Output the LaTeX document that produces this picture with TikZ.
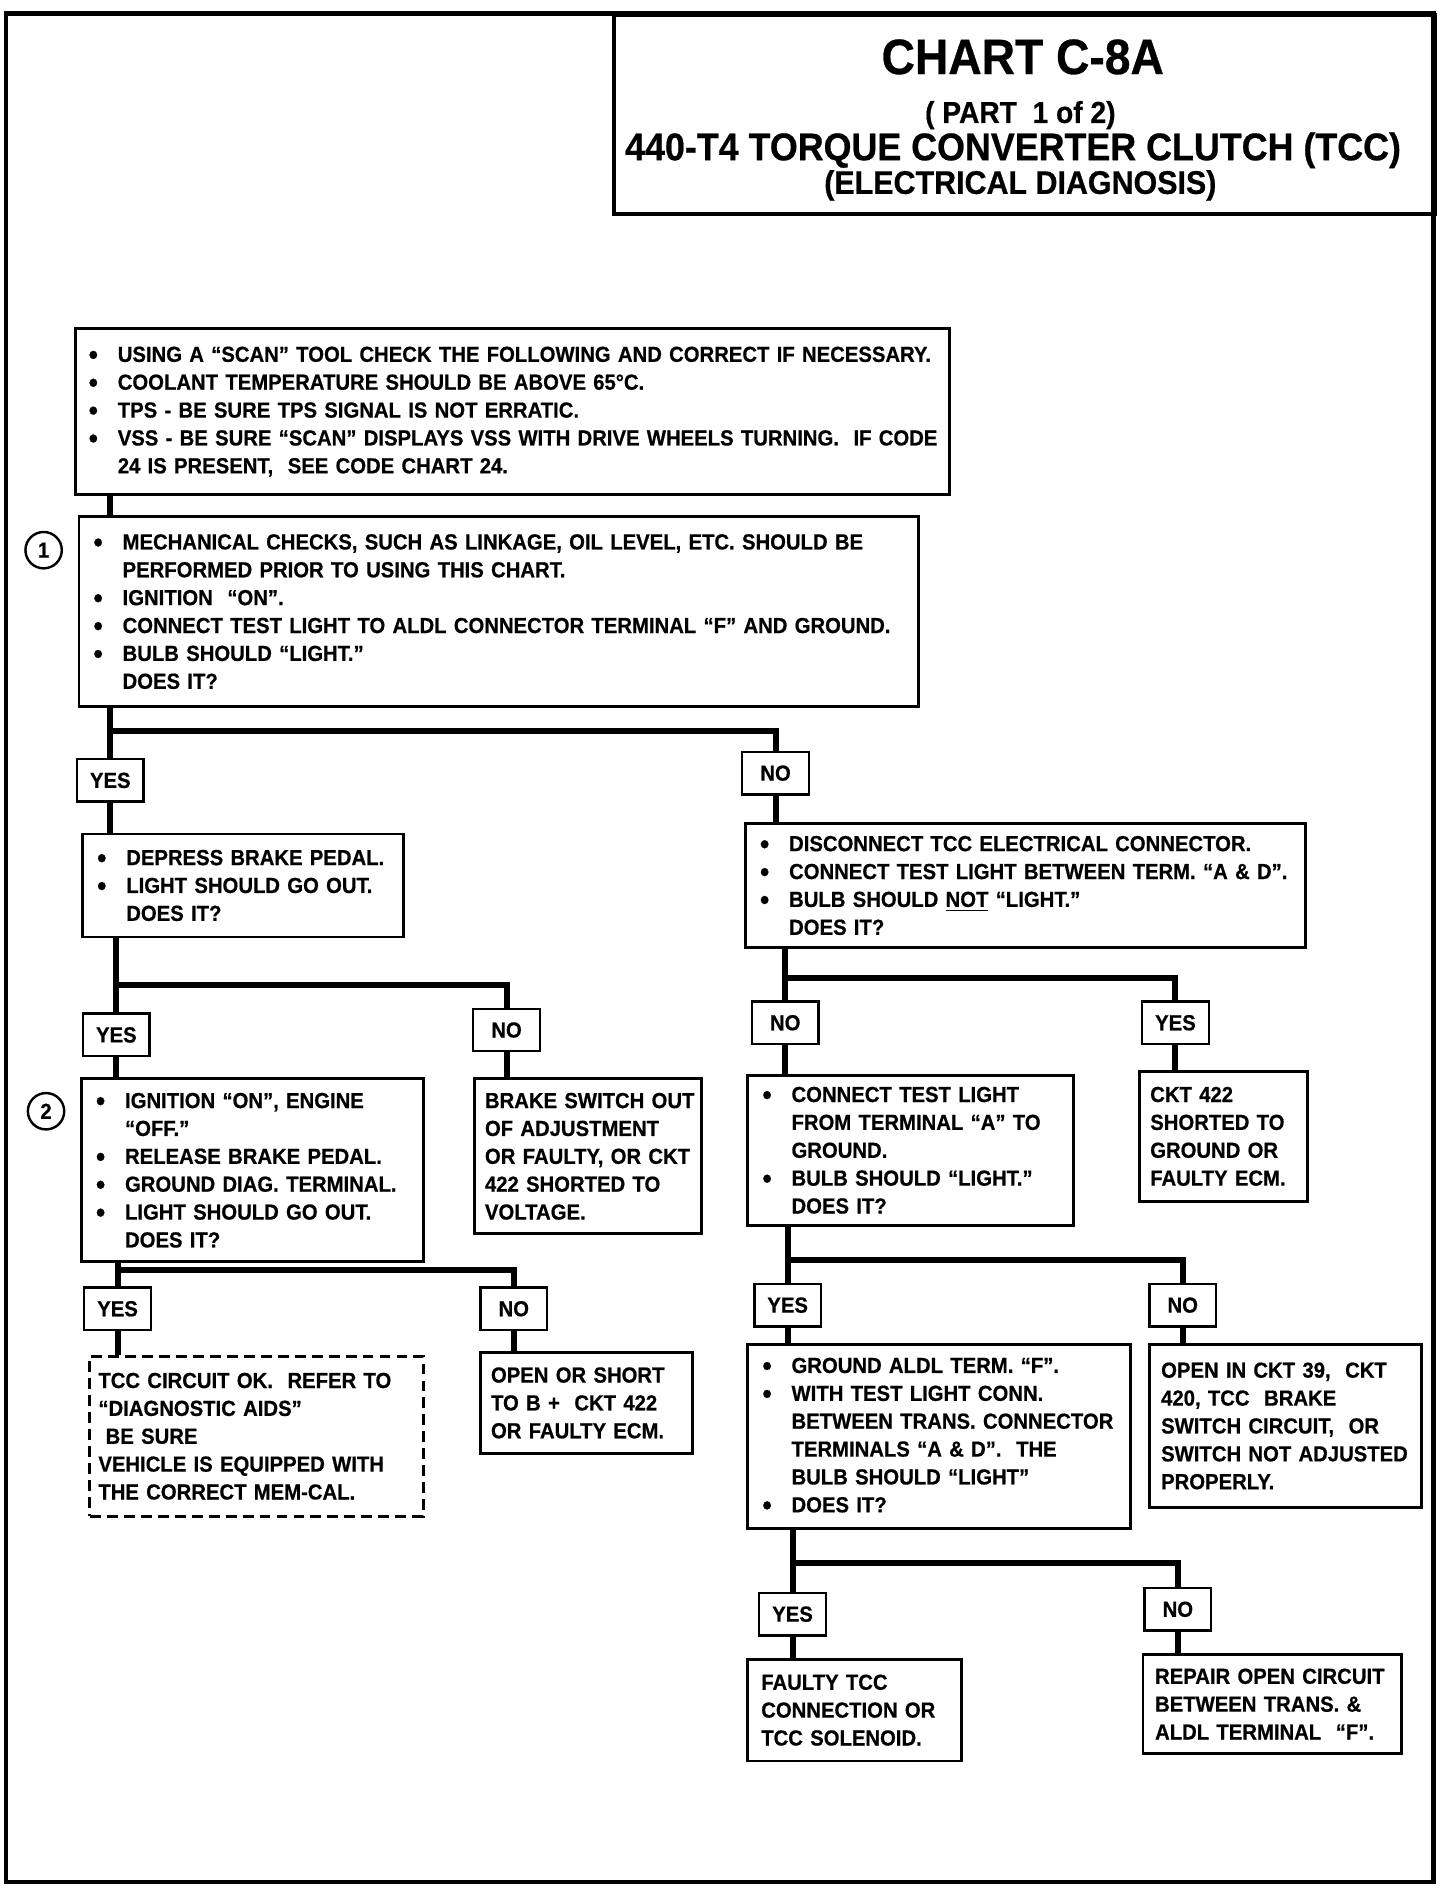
\documentclass[tikz,border=0pt]{standalone}
\usepackage{fontspec}
\newfontfamily\cf[FakeStretch=0.93,BoldFeatures={FakeBold=0.6}]{Liberation Sans}
\newcommand\body{\cf\bfseries\fontsize{9pt}{11.5pt}\selectfont}
\newcommand\bigbul{\raisebox{-1pt}{\scalebox{1.3}{\textbullet}}}
\newcommand\bl[1]{\mbox{\makebox[12pt][l]{\bigbul}#1}}
\newcommand\il[1]{\mbox{\hspace*{12pt}#1}}
\newcommand\pl[1]{\mbox{#1}}
\begin{document}
\begin{tikzpicture}[x=0.5pt,y=-0.5pt,
  box/.style={draw, line width=1.2pt, anchor=north west, inner ysep=0pt, align=left, font=\body},
  lbl/.style={draw, line width=1pt, minimum width=27.5pt, minimum height=17.5pt, inner sep=0pt, font=\body},
  conn/.style={line width=2.5pt},
  num/.style={draw, circle, line width=1pt, minimum size=15pt, inner sep=0pt, font=\body}]
\useasboundingbox (0,0) rectangle (1188,1558);
% frame and title
\draw[line width=2pt] (5,11) rectangle (1183,1553);
\node[draw, line width=1.5pt, anchor=north west, minimum width=339pt, minimum height=82pt, inner sep=0pt] (title) at (505,11) {};
\node[font=\cf\bfseries\fontsize{20.5pt}{22pt}\selectfont] (t1) at (844,47) {CHART C-8A};
\node[font=\cf\bfseries\fontsize{12.5pt}{14pt}\selectfont] (t2) at (842,95) {( PART \ 1 of 2)};
\node[font=\cf\bfseries\fontsize{15.9pt}{17pt}\selectfont] (t3) at (836,124) {440-T4 TORQUE CONVERTER CLUTCH (TCC)};
\node[font=\cf\bfseries\fontsize{13.5pt}{15pt}\selectfont] (t4) at (842,153) {(ELECTRICAL DIAGNOSIS)};
% boxes
\node[box, inner xsep=5.5pt, text width=349.5pt, minimum height=68.5pt] (A) at (61,270) {%
\bl{USING A “SCAN” TOOL CHECK THE FOLLOWING AND CORRECT IF NECESSARY.}\\
\bl{COOLANT TEMPERATURE SHOULD BE ABOVE 65°C.}\\
\bl{TPS - BE SURE TPS SIGNAL IS NOT ERRATIC.}\\
\bl{VSS - BE SURE “SCAN” DISPLAYS VSS WITH DRIVE WHEELS TURNING.\ \ IF CODE}\\
\il{24 IS PRESENT,\ \ SEE CODE CHART 24.}};
\node[box, inner xsep=6pt, text width=334.5pt, minimum height=78.5pt] (B) at (64,425) {%
\bl{MECHANICAL CHECKS, SUCH AS LINKAGE, OIL LEVEL, ETC. SHOULD BE}\\
\il{PERFORMED PRIOR TO USING THIS CHART.}\\
\bl{IGNITION \ “ON”.}\\
\bl{CONNECT TEST LIGHT TO ALDL CONNECTOR TERMINAL “F” AND GROUND.}\\
\bl{BULB SHOULD “LIGHT.”}\\
\il{DOES IT?}};
\node[num] (c1) at (36,454) {1};
\node[box, inner xsep=6pt, text width=120.5pt, minimum height=42.5pt] (C) at (67,687) {%
\bl{DEPRESS BRAKE PEDAL.}\\
\bl{LIGHT SHOULD GO OUT.}\\
\il{DOES IT?}};
\node[box, inner xsep=6pt, text width=129pt, minimum height=75.5pt] (D) at (66,889) {%
\bl{IGNITION “ON”, ENGINE}\\
\il{“OFF.”}\\
\bl{RELEASE BRAKE PEDAL.}\\
\bl{GROUND DIAG. TERMINAL.}\\
\bl{LIGHT SHOULD GO OUT.}\\
\il{DOES IT?}};
\node[num] (c2) at (38,917) {2};
\node[box, inner xsep=4.5pt, text width=85pt, minimum height=64pt] (E) at (390,889) {%
\pl{BRAKE SWITCH OUT}\\
\pl{OF ADJUSTMENT}\\
\pl{OR FAULTY, OR CKT}\\
\pl{422 SHORTED TO}\\
\pl{VOLTAGE.}};
\node[box, dash pattern=on 4.5pt off 2.5pt, inner xsep=3.5pt, text width=130.5pt, minimum height=66pt] (F) at (73,1118) {%
\pl{TCC CIRCUIT OK.\ \ REFER TO}\\
\pl{“DIAGNOSTIC AIDS”}\\
\pl{\hspace*{3pt}BE SURE}\\
\pl{VEHICLE IS EQUIPPED WITH}\\
\pl{THE CORRECT MEM-CAL.}};
\node[box, inner xsep=4.5pt, text width=78.5pt, minimum height=41.5pt] (G) at (395,1115) {%
\pl{OPEN OR SHORT}\\
\pl{TO B + \ CKT 422}\\
\pl{OR FAULTY ECM.}};
\node[box, inner xsep=6pt, text width=219pt, minimum height=51.5pt] (H) at (614,678) {%
\bl{DISCONNECT TCC ELECTRICAL CONNECTOR.}\\
\bl{CONNECT TEST LIGHT BETWEEN TERM. “A \& D”.}\\
\bl{BULB SHOULD \underline{NOT} “LIGHT.”}\\
\il{DOES IT?}};
\node[box, inner xsep=6pt, text width=122.5pt, minimum height=62pt] (I) at (616,886) {%
\bl{CONNECT TEST LIGHT}\\
\il{FROM TERMINAL “A” TO}\\
\il{GROUND.}\\
\bl{BULB SHOULD “LIGHT.”}\\
\il{DOES IT?}};
\node[box, inner xsep=4.5pt, text width=60.5pt, minimum height=53.5pt] (J) at (939,883) {%
\pl{CKT 422}\\
\pl{SHORTED TO}\\
\pl{GROUND OR}\\
\pl{FAULTY ECM.}};
\node[box, inner xsep=6pt, text width=146pt, minimum height=76pt] (K) at (616,1108) {%
\bl{GROUND ALDL TERM. “F”.}\\
\bl{WITH TEST LIGHT CONN.}\\
\il{BETWEEN TRANS. CONNECTOR}\\
\il{TERMINALS “A \& D”.\ \ THE}\\
\il{BULB SHOULD “LIGHT”}\\
\bl{DOES IT?}};
\node[box, inner xsep=5pt, text width=102.5pt, minimum height=67.5pt] (L) at (947,1108) {%
\pl{OPEN IN CKT 39,\ \ CKT}\\
\pl{420, TCC\ \ BRAKE}\\
\pl{SWITCH CIRCUIT,\ \ OR}\\
\pl{SWITCH NOT ADJUSTED}\\
\pl{PROPERLY.}};
\node[box, inner xsep=5.5pt, text width=77pt, minimum height=42pt] (M) at (616,1368) {%
\pl{FAULTY TCC}\\
\pl{CONNECTION OR}\\
\pl{TCC SOLENOID.}};
\node[box, inner xsep=5pt, text width=96.5pt, minimum height=41pt] (N) at (942,1364) {%
\pl{REPAIR OPEN CIRCUIT}\\
\pl{BETWEEN TRANS. \&}\\
\pl{ALDL TERMINAL\ \ “F”.}};
% labels
\node[lbl] (y1) at (91,644) {YES};
\node[lbl] (n1) at (640,638) {NO};
\node[lbl] (y2) at (96,854) {YES};
\node[lbl] (n2) at (418,850) {NO};
\node[lbl] (y3) at (97,1080) {YES};
\node[lbl] (n3) at (424,1080) {NO};
\node[lbl] (n4) at (648,844) {NO};
\node[lbl] (y4) at (970,844) {YES};
\node[lbl] (y5) at (650,1077) {YES};
\node[lbl] (n5) at (976,1077) {NO};
\node[lbl] (y6) at (654,1332) {YES};
\node[lbl] (n6) at (972,1328) {NO};
% junctions
\coordinate (j1) at (91,603);
\coordinate (j2) at (96,813);
\coordinate (j3) at (97,1048);
\coordinate (j4) at (648,807);
\coordinate (j5) at (650,1040);
\coordinate (j6) at (654,1290);
% connectors
\draw[conn] (A.south -| j1) -- (B.north -| j1);
\draw[conn] (B.south -| j1) -- (y1.north);
\draw[conn] (j1) -| (n1.north);
\draw[conn] (y1.south) -- (y1.south |- C.north);
\draw[conn] (n1.south) -- (n1.south |- H.north);
\draw[conn] (C.south -| j2) -- (y2.north);
\draw[conn] (j2) -| (n2.north);
\draw[conn] (y2.south) -- (y2.south |- D.north);
\draw[conn] (n2.south) -- (n2.south |- E.north);
\draw[conn] (D.south -| j3) -- (y3.north);
\draw[conn] (j3) -| (n3.north);
\draw[conn] (y3.south) -- (y3.south |- F.north);
\draw[conn] (n3.south) -- (n3.south |- G.north);
\draw[conn] (H.south -| j4) -- (n4.north);
\draw[conn] (j4) -| (y4.north);
\draw[conn] (n4.south) -- (n4.south |- I.north);
\draw[conn] (y4.south) -- (y4.south |- J.north);
\draw[conn] (I.south -| j5) -- (y5.north);
\draw[conn] (j5) -| (n5.north);
\draw[conn] (y5.south) -- (y5.south |- K.north);
\draw[conn] (n5.south) -- (n5.south |- L.north);
\draw[conn] (K.south -| j6) -- (y6.north);
\draw[conn] (j6) -| (n6.north);
\draw[conn] (y6.south) -- (y6.south |- M.north);
\draw[conn] (n6.south) -- (n6.south |- N.north);
\end{tikzpicture}
\end{document}
